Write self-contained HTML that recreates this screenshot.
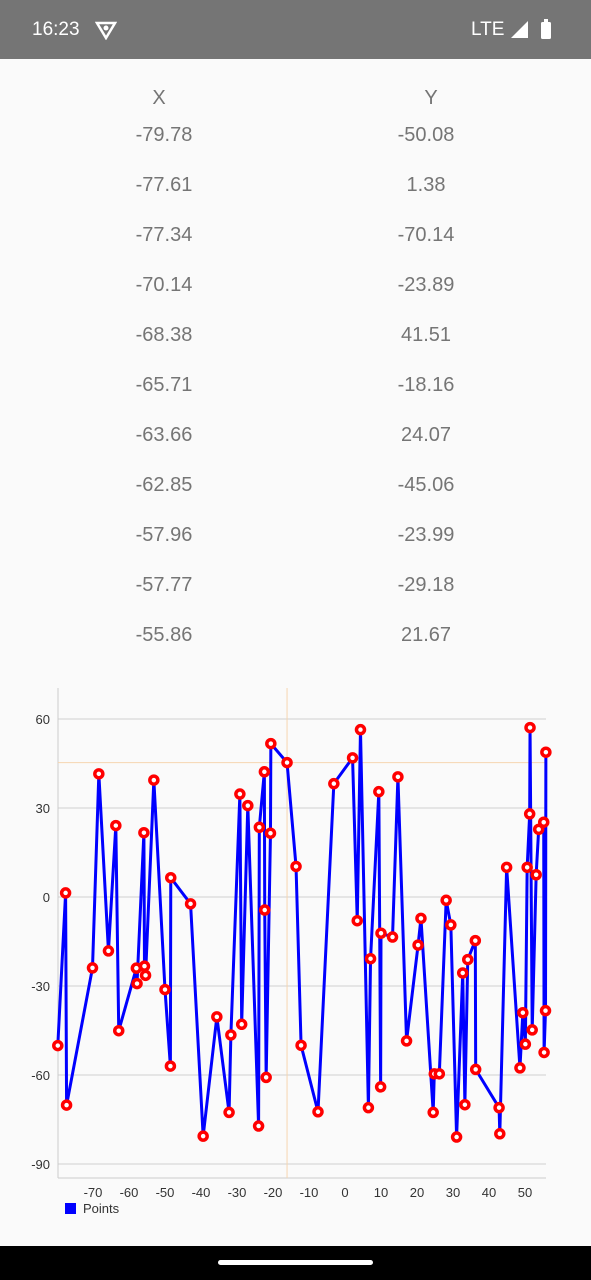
<!DOCTYPE html>
<html><head><meta charset="utf-8"><style>
body{margin:0;width:591px;height:1280px;background:#fafafa;font-family:"Liberation Sans",sans-serif;position:relative;overflow:hidden}
.sb{position:absolute;left:0;top:0;width:591px;height:59px;background:#757575;color:#fff}
.cell{position:absolute;width:200px;text-align:center;font-size:20px;color:#757575}
.nav{position:absolute;left:0;top:1246px;width:591px;height:34px;background:#000}
.pill{position:absolute;left:218px;top:1260px;width:155px;height:5px;border-radius:3px;background:#fff}
</style></head><body>
<div class="sb">
<span style="position:absolute;left:32px;top:19px;font-size:19px">16:23</span>
<svg style="position:absolute;left:95px;top:20px" width="22" height="20"><path d="M2 3 L20 3 L11 18 Z" fill="none" stroke="#fff" stroke-width="2.5"/><circle cx="11" cy="8" r="2.5" fill="#fff"/></svg>
<span style="position:absolute;left:471px;top:19px;font-size:19px">LTE</span>
<svg style="position:absolute;left:509px;top:19px" width="46" height="22"><path d="M2 19 L19 19 L19 2 Z" fill="#fff"/><rect x="32" y="3" width="10" height="17" rx="1.5" fill="#fff"/><rect x="35" y="0" width="4" height="3" fill="#fff"/></svg>
</div>
<div id="table"></div>
<svg id="chart" style="position:absolute;left:0;top:0" width="591" height="1246"></svg>
<div class="nav"></div>
<div class="pill"></div>
<script>
const tableX=[-79.78,-77.61,-77.34,-70.14,-68.38,-65.71,-63.66,-62.85,-57.96,-57.77,-55.86];
const tableY=[-50.08,1.38,-70.14,-23.89,41.51,-18.16,24.07,-45.06,-23.99,-29.18,21.67];
const xs=[-79.78,-77.61,-77.34,-70.14,-68.38,-65.71,-63.66,-62.85,-57.96,-57.77,-55.86,-55.7,-55.4,-53.1,-50,-48.5,-48.4,-42.9,-39.4,-35.6,-32.2,-31.7,-29.2,-28.7,-27,-24.0,-23.8,-22.4,-22.3,-21.9,-20.7,-20.6,-16.1,-13.6,-12.2,-7.5,-3.1,2.1,3.4,4.3,6.5,7.1,9.4,9.9,10.0,13.2,14.7,17.1,20.3,21.1,24.5,24.8,26.2,28.1,29.4,31.0,32.7,33.3,34.1,36.2,36.3,42.8,43.0,44.9,48.6,49.4,50.1,50.6,51.3,51.4,52.0,53.1,53.8,55.2,55.3,55.7,55.8];
const ys=[-50.08,1.38,-70.14,-23.89,41.51,-18.16,24.07,-45.06,-23.99,-29.18,21.67,-23.3,-26.4,39.4,-31.2,-57,6.5,-2.3,-80.6,-40.4,-72.6,-46.5,34.7,-42.9,30.8,-77.2,23.5,42.2,-4.4,-60.8,21.5,51.7,45.3,10.3,-50,-72.4,38.2,46.9,-8,56.4,-71,-20.8,35.5,-64,-12.2,-13.5,40.5,-48.5,-16.2,-7.2,-72.6,-59.6,-59.6,-1.1,-9.4,-80.9,-25.6,-70,-21.1,-14.7,-58.1,-71,-79.8,10,-57.6,-39,-49.6,10,28,57.1,-44.8,7.5,22.8,25.2,-52.4,-38.3,48.8];
const yTicks=[60,30,0,-30,-60,-90];
const xTicks=[-70,-60,-50,-40,-30,-20,-10,0,10,20,30,40,50];
const crossX=-16.1, crossY=45.3;

const tb=document.getElementById('table');
function cell(txt,cx,cy,name){const d=document.createElement('div');d.className='cell';d.style.left=(cx-100)+'px';d.style.top=(cy-10)+'px';d.textContent=txt;


tb.appendChild(d);}
cell('X',159,97,'x-column-header');cell('Y',431,97,'y-column-header');
tableX.forEach((v,i)=>{cell(v.toFixed(2),164,134+i*50,'table-x-value');cell(tableY[i].toFixed(2),426,134+i*50,'table-y-value');});

const NS='http://www.w3.org/2000/svg',svg=document.getElementById('chart');
const sx=v=>345+v*3.6, sy=v=>897-v*2.967;
function el(t,a,name){const e=document.createElementNS(NS,t);for(const k in a)e.setAttribute(k,a[k]);


svg.appendChild(e);return e;}
yTicks.forEach(t=>{el('line',{x1:58,x2:546,y1:sy(t),y2:sy(t),stroke:'#d0d0d0','stroke-width':1},'y-gridline');
const tx=el('text',{x:50,y:sy(t)+5,'text-anchor':'end','font-size':13,fill:'#333'},'y-tick-label');tx.textContent=t;});
xTicks.forEach(t=>{const tx=el('text',{x:sx(t),y:1197,'text-anchor':'middle','font-size':13,fill:'#333'},'x-tick-label');tx.textContent=t;});
el('line',{x1:58,x2:58,y1:688,y2:1178,stroke:'#ccc','stroke-width':1},'y-axis');
el('line',{x1:58,x2:546,y1:1178,y2:1178,stroke:'#ccc','stroke-width':1},'x-axis');
el('line',{x1:sx(crossX),x2:sx(crossX),y1:688,y2:1178,stroke:'#f5d5b0','stroke-width':1},'crosshair-vertical');
el('line',{x1:58,x2:546,y1:sy(crossY),y2:sy(crossY),stroke:'#f5d5b0','stroke-width':1},'crosshair-horizontal');
el('polyline',{points:xs.map((x,i)=>sx(x)+','+sy(ys[i])).join(' '),fill:'none',stroke:'#0000ff','stroke-width':3,'stroke-linejoin':'round'},'points-series-line');
xs.forEach((x,i)=>el('circle',{cx:sx(x),cy:sy(ys[i]),r:4,fill:'#fff',stroke:'#ff0000','stroke-width':3.5},'data-point'));
el('rect',{x:65,y:1203,width:11,height:11,fill:'#0000ff'},'legend-swatch');
const lg=el('text',{x:83,y:1213,'font-size':13,fill:'#333'},'legend-label');lg.textContent='Points';
</script>
</body></html>
